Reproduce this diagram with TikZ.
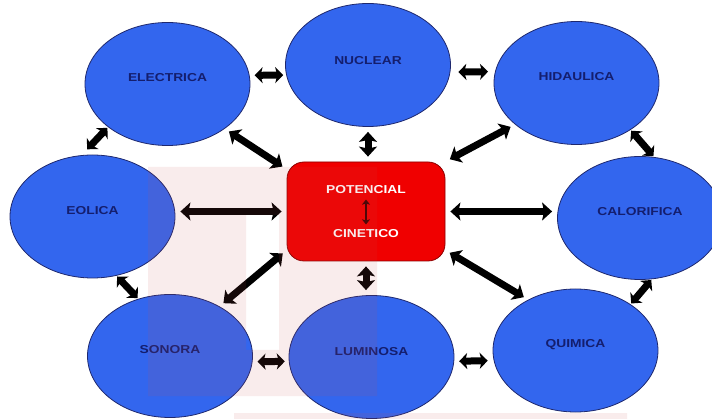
\documentclass[tikz,border=0pt]{standalone}
\usepackage{fontspec}
\newfontfamily\etiq[FakeStretch=1.2]{Liberation Sans}
\usetikzlibrary{shapes.geometric,arrows.meta}

\definecolor{bleu}{RGB}{51,102,238}
\definecolor{bord}{RGB}{30,40,110}
\definecolor{texte}{RGB}{20,30,110}
\definecolor{rouge}{RGB}{240,0,0}
\definecolor{rose}{RGB}{200,80,80}

\tikzset{
    bulle/.style={ellipse, draw=bord, line width=0.8pt, fill=bleu,
        minimum width=165pt, minimum height=123pt, inner sep=0pt},
    titre/.style={font=\etiq\bfseries\fontsize{11.5}{13}\selectfont, text=texte},
    boite/.style={rectangle, rounded corners=17pt, fill=rouge, draw=red!55!black,
        line width=0.8pt, minimum width=158pt, minimum height=99pt},
    fleche/.style={line width=7pt, shorten <=5pt, shorten >=5pt,
        {Stealth[length=10pt,width=18pt,inset=2pt]}-{Stealth[length=10pt,width=18pt,inset=2pt]}},
    courte/.style={fleche, shorten <=1pt, shorten >=1pt,
        {Stealth[length=8pt,width=16pt,inset=2pt]}-{Stealth[length=8pt,width=16pt,inset=2pt]}},
    petite/.style={line width=2.5pt, draw=red!25!black, shorten <=2pt, shorten >=2pt,
        {Stealth[length=5pt,width=8pt,inset=1pt]}-{Stealth[length=5pt,width=8pt,inset=1pt]}},
}

\begin{document}
\begin{tikzpicture}[x=1pt,y=-1pt]
    \clip (0,0) rectangle (712,419);

    % Les bulles
    \node[bulle, label={[titre,yshift=6pt]center:ELECTRICA}] (elec) at (167.5,84) {};
    \node[bulle, label={[titre,yshift=4pt]center:NUCLEAR}] (nuc) at (368,65) {};
    \node[bulle, label={[titre,yshift=6pt]center:HIDAULICA}] (hid) at (576.5,83) {};
    \node[bulle, label={[titre,yshift=6pt]center:EOLICA}] (eol) at (92.5,216.5) {};
    \node[bulle, label={[titre,yshift=6pt]center:CALORIFICA}] (cal) at (640,218) {};
    \node[bulle, label={[titre,yshift=6pt]center:SONORA}] (son) at (170,356) {};
    \node[bulle, label={[titre,yshift=5pt]center:LUMINOSA}] (lum) at (371.5,357) {};
    \node[bulle, label={[titre,yshift=6pt]center:QUIMICA}] (qui) at (575.5,350.5) {};

    % La boite centrale
    \node[boite] (centre) at (366,211.5) {};
    \node[titre, text=white] (pot) at (366,190) {POTENCIAL};
    \node[titre, text=white] (cin) at (366,234) {CINETICO};
    \draw[petite] (pot) -- (cin);

    % Fleches entre les bulles
    \draw[courte, shorten <=5pt, shorten >=3pt] (elec.6) -- (nuc.187);
    \draw[courte, shorten <=8pt, shorten >=7pt] (nuc.355) -- (hid.172);
    \draw[courte, shorten >=8pt] (elec.216) -- (eol.100);
    \draw[courte] (eol.292) -- (son.119);
    \draw[courte, shorten <=5pt, shorten >=4pt] (son.356) -- (lum.183);
    \draw[courte, shorten <=5pt, shorten >=6pt] (lum.357) -- (qui.187);
    \draw[courte] (hid.319) -- (cal.77);
    \draw[courte] (cal.281) -- (qui.40);

    % Fleches vers la boite
    \draw[fleche] (elec.322) -- (centre.152);
    \draw[fleche] (nuc.south) -- (nuc.south |- centre.north);
    \draw[fleche] (hid.214) -- (centre.north east);
    \draw[fleche] (eol.east |- centre.west) -- (centre.west);
    \draw[fleche] (centre.east) -- (centre.east -| cal.west);
    \draw[fleche] (centre.334) -- (qui.133);
    \draw[fleche] (centre.south) -- (centre.south |- lum.north);
    \draw[fleche] (centre.206) -- (son.45);

    % Filigrane rose
    \fill[rose, fill opacity=0.11, even odd rule]
        (148,167) rectangle (377,396) (246,215) rectangle (279,350)
        (234,413) rectangle (627,419);

\end{tikzpicture}
\end{document}
